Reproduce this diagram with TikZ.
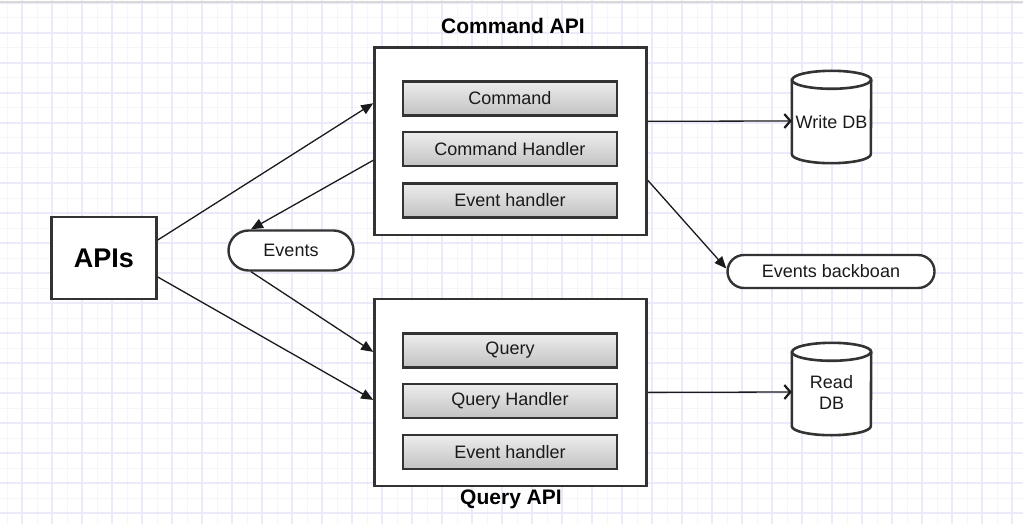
\documentclass[tikz,border=0pt]{standalone}
\usepackage{fontspec}
\setmainfont{Liberation Sans}
\usetikzlibrary{arrows.meta,shapes.misc}
\definecolor{gridA}{HTML}{EAEAFA}
\definecolor{gridB}{HTML}{F5F5FC}
\definecolor{edge}{HTML}{333333}
\definecolor{gtop}{HTML}{EDEDED}
\definecolor{gbot}{HTML}{C2C2C2}
\definecolor{ink}{HTML}{1A1A1A}
\tikzset{
  outerbox/.style={draw=edge, line width=2.6pt, fill=white, minimum width=272pt, minimum height=187pt, inner sep=0pt},
  innerbox/.style={draw=edge, line width=2.6pt, top color=gtop, bottom color=gbot, minimum width=214pt, minimum height=34pt, inner sep=0pt, font=\fontsize{18}{21}\selectfont, text=ink},
  apibox/.style={draw=edge, line width=2.6pt, fill=white, minimum width=105pt, minimum height=82pt, inner sep=0pt, font=\bfseries\fontsize{27}{31}\selectfont},
  pill/.style={draw=edge, line width=2.4pt, fill=white, rounded rectangle, inner sep=0pt, font=\fontsize{18}{21}\selectfont, text=ink},
  title/.style={font=\bfseries\fontsize{21}{25}\selectfont, inner sep=0pt},
  dbbox/.style={draw=none, minimum width=79pt, minimum height=92pt, inner sep=0pt},
  dbline/.style={draw=edge, line width=2.6pt, fill=white},
  dblabel/.style={font=\fontsize{18}{21}\selectfont, text=ink, align=center, inner sep=0pt},
  conn/.style={draw=ink, line width=1.3pt, -{Triangle[length=12pt,width=10pt]}},
  openconn/.style={draw=ink, line width=1.3pt, -{Straight Barb[length=6pt,width=14pt,line width=2.2pt]}}
}
\begin{document}
\begin{tikzpicture}[x=1pt,y=-1pt]
\useasboundingbox (0,0) rectangle (1023,524);
\fill[white] (0,0) rectangle (1023,524);
% grid
\foreach \gx in {7,37,...,1023} \draw[gridB, line width=1pt] (\gx,0) -- (\gx,524);
\foreach \gy in {18,48,...,524} \draw[gridB, line width=1pt] (0,\gy) -- (1023,\gy);
\foreach \gx in {22,52,...,1023} \draw[gridA, line width=1.2pt] (\gx,0) -- (\gx,524);
\foreach \gy in {3,33,...,524} \draw[gridA, line width=1.2pt] (0,\gy) -- (1023,\gy);
\draw[gray!30, line width=1.2pt] (0,2) -- (1023,2);

% APIs
\node[apibox] (apis) at (104,258) {APIs};

% Command API
\node[outerbox] (cmd) at (510.5,141.3) {};
\node[title] (cmdt) at (513,26) {Command API};
\node[innerbox] (c1) at (510,98.3) {Command};
\node[innerbox] (c2) at (510,149.2) {Command Handler};
\node[innerbox] (c3) at (510,200.2) {Event handler};

% Query API
\node[outerbox] (qry) at (510.5,392.4) {};
\node[title] (qryt) at (511,499) {Query API};
\node[innerbox] (q1) at (510,350.5) {Query};
\node[innerbox] (q2) at (510,401) {Query Handler};
\node[innerbox] (q3) at (510,452) {Event handler};

% Events pills
\node[pill, minimum width=125pt, minimum height=40pt] (ev) at (291,250.5) {Events};
\node[pill, minimum width=207pt, minimum height=33pt] (eb) at (831,271.5) {Events backboan};

% Write DB
\node[dbbox] (wdb) at (831.5,117) {};
\path[dbline] ([yshift=-9pt]wdb.north west) -- ([yshift=9pt]wdb.south west)
  arc[start angle=180,end angle=360,x radius=39.5pt,y radius=9pt]
  -- ([yshift=-9pt]wdb.north east)
  arc[start angle=0,end angle=180,x radius=39.5pt,y radius=9pt] -- cycle;
\draw[draw=edge, line width=2.6pt] ([yshift=-9pt]wdb.north west)
  arc[start angle=180,end angle=360,x radius=39.5pt,y radius=9pt];
\node[dblabel] (wdbl) at ([yshift=-5pt]wdb.center) {Write DB};

% Read DB
\node[dbbox] (rdb) at (831.5,389) {};
\path[dbline] ([yshift=-9pt]rdb.north west) -- ([yshift=9pt]rdb.south west)
  arc[start angle=180,end angle=360,x radius=39.5pt,y radius=9pt]
  -- ([yshift=-9pt]rdb.north east)
  arc[start angle=0,end angle=180,x radius=39.5pt,y radius=9pt] -- cycle;
\draw[draw=edge, line width=2.6pt] ([yshift=-9pt]rdb.north west)
  arc[start angle=180,end angle=360,x radius=39.5pt,y radius=9pt];
\node[dblabel] (rdbl) at ([yshift=-3pt]rdb.center) {Read\\[0pt]DB};

% connectors
\draw[conn] ([yshift=18pt]apis.east) -- ([yshift=38pt]cmd.west);
\draw[conn] ([yshift=-19pt]apis.east) -- ([yshift=-7.5pt]qry.west);
\draw[conn] ([yshift=-19pt]cmd.west) -- ([xshift=-40pt]ev.north);
\draw[conn] ([xshift=-40pt]ev.south) -- ([yshift=40.5pt]qry.west);
\draw[openconn] ([yshift=20pt]cmd.east) -- ([yshift=-4pt]wdb.west);
\draw[conn] ([yshift=-39pt]cmd.east) -- ([yshift=3pt]eb.west);
\draw[openconn] (qry.east) -- ([yshift=-3pt]rdb.west);
\end{tikzpicture}
\end{document}
